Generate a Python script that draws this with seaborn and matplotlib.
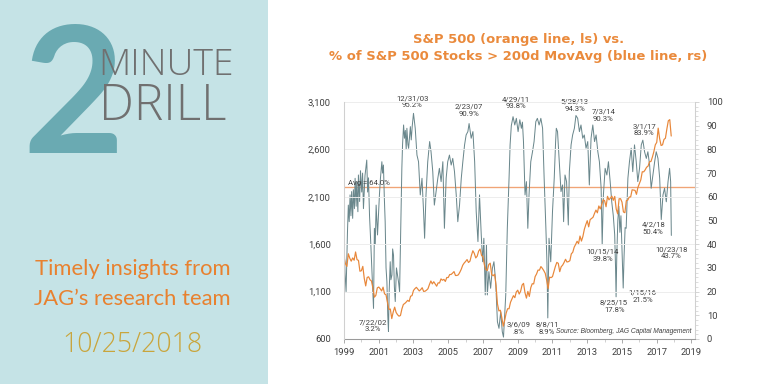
import numpy as np
import matplotlib
matplotlib.use('Agg')
import matplotlib.pyplot as plt
import matplotlib.ticker as mticker
from matplotlib.patches import Rectangle
import seaborn as sns

# ====== S&P 500 level, month-end, left scale (first point = chart start) ======
sp_start = 1999.0
sp_500 = [
    1469,
    1394, 1366, 1499, 1452, 1421, 1455, 1431, 1518, 1437, 1429, 1315, 1320,
    1366, 1240, 1160, 1249, 1256, 1224, 1211, 1134, 1041, 1060, 1139, 1148,
    1130, 1107, 1147, 1076, 1067, 990, 912, 916, 815, 885, 936, 880,
    856, 841, 848, 917, 964, 975, 990, 1008, 996, 1051, 1058, 1112,
    1131, 1145, 1126, 1107, 1121, 1141, 1102, 1104, 1115, 1130, 1174, 1212,
    1181, 1204, 1181, 1157, 1192, 1191, 1234, 1220, 1229, 1207, 1249, 1248,
    1280, 1281, 1295, 1311, 1270, 1270, 1277, 1304, 1336, 1378, 1401, 1418,
    1438, 1407, 1421, 1482, 1531, 1503, 1455, 1474, 1527, 1549, 1481, 1468,
    1379, 1331, 1323, 1386, 1400, 1280, 1267, 1283, 1166, 969, 896, 903,
    826, 735, 798, 873, 919, 919, 987, 1021, 1057, 1036, 1096, 1115,
    1074, 1104, 1169, 1187, 1089, 1031, 1102, 1049, 1141, 1183, 1181, 1258,
    1286, 1327, 1326, 1364, 1345, 1321, 1292, 1219, 1131, 1253, 1247, 1258,
    1312, 1366, 1408, 1398, 1310, 1362, 1379, 1407, 1441, 1412, 1416, 1426,
    1498, 1515, 1569, 1598, 1631, 1606, 1686, 1633, 1682, 1757, 1806, 1848,
    1783, 1859, 1872, 1884, 1924, 1960, 1931, 2003, 1972, 2018, 2068, 2059,
    1995, 2105, 2068, 2086, 2107, 2063, 2104, 1972, 1920, 2079, 2080, 2044,
    1940, 1932, 2060, 2065, 2097, 2099, 2174, 2171, 2168, 2126, 2199, 2239,
    2279, 2364, 2363, 2384, 2412, 2423, 2470, 2472, 2519, 2575, 2648, 2674,
    2824, 2714, 2641, 2648, 2705, 2718, 2816, 2902, 2914, 2741,
]

# ====== % of S&P 500 stocks above 200d moving average, right scale ======
pct_years = [
    1999.00, 1999.06, 1999.12, 1999.20, 1999.25, 1999.30, 1999.35, 1999.40, 1999.44, 1999.50,
    1999.54, 1999.60, 1999.64, 1999.70, 1999.73, 1999.80, 1999.83, 1999.90, 1999.95, 2000.02,
    2000.07, 2000.12, 2000.21, 2000.31, 2000.36, 2000.41, 2000.47, 2000.52, 2000.60, 2000.70,
    2000.75, 2000.80, 2000.85, 2000.93, 2001.04, 2001.10, 2001.18, 2001.22, 2001.27, 2001.32,
    2001.37, 2001.42, 2001.47, 2001.52, 2001.56, 2001.60, 2001.66, 2001.70, 2001.76, 2001.80,
    2001.85, 2001.90, 2001.95, 2002.02, 2002.08, 2002.14, 2002.20, 2002.25, 2002.29, 2002.33,
    2002.37, 2002.43, 2002.48, 2002.53, 2002.58, 2002.62, 2002.68, 2002.72, 2002.78, 2002.82,
    2002.87, 2002.93, 2003.00, 2003.10, 2003.20, 2003.29, 2003.39, 2003.49, 2003.58, 2003.64,
    2003.72, 2003.82, 2003.93, 2004.01, 2004.11, 2004.20, 2004.30, 2004.40, 2004.49, 2004.59,
    2004.69, 2004.78, 2004.88, 2004.97, 2005.07, 2005.17, 2005.26, 2005.36, 2005.46, 2005.55,
    2005.65, 2005.75, 2005.84, 2005.94, 2006.03, 2006.13, 2006.20, 2006.32, 2006.42, 2006.52,
    2006.61, 2006.71, 2006.80, 2006.90, 2006.98, 2007.05, 2007.13, 2007.20, 2007.25, 2007.34,
    2007.44, 2007.54, 2007.63, 2007.73, 2007.83, 2007.92, 2008.02, 2008.11, 2008.18, 2008.31,
    2008.40, 2008.50, 2008.56, 2008.63, 2008.73, 2008.83, 2008.92, 2009.02, 2009.12, 2009.21,
    2009.27, 2009.33, 2009.42, 2009.50, 2009.58, 2009.65, 2009.75, 2009.85, 2009.94, 2010.04,
    2010.13, 2010.23, 2010.33, 2010.43, 2010.52, 2010.62, 2010.68, 2010.73, 2010.80, 2010.90,
    2011.00, 2011.10, 2011.18, 2011.22, 2011.29, 2011.39, 2011.49, 2011.58, 2011.64, 2011.72,
    2011.81, 2011.91, 2011.97, 2012.07, 2012.16, 2012.26, 2012.35, 2012.45, 2012.55, 2012.64,
    2012.74, 2012.83, 2012.93, 2013.03, 2013.12, 2013.22, 2013.32, 2013.42, 2013.51, 2013.61,
    2013.70, 2013.80, 2013.86, 2013.93, 2014.03, 2014.13, 2014.22, 2014.32, 2014.41, 2014.50,
    2014.58, 2014.63, 2014.66, 2014.70, 2014.76, 2014.82, 2014.88, 2014.94, 2015.00, 2015.04,
    2015.07, 2015.12, 2015.18, 2015.24, 2015.34, 2015.43, 2015.53, 2015.62, 2015.72, 2015.82,
    2015.91, 2016.01, 2016.11, 2016.20, 2016.30, 2016.40, 2016.49, 2016.59, 2016.68, 2016.78,
    2016.88, 2016.97, 2017.07, 2017.17, 2017.26, 2017.36, 2017.45, 2017.55, 2017.65, 2017.74,
    2017.80, 2017.84,
]
pct_above = [
    42, 28, 20, 45, 56.5, 49.5, 60.8, 52, 62.2, 50.9,
    63, 55, 67.8, 56, 66.4, 53.7, 69.2, 58, 71, 62,
    70, 55, 69, 75.5, 62, 68, 52, 44, 30, 12.9,
    46.7, 40, 56.5, 43.9, 60.8, 68, 74.8, 70, 73.4, 60,
    49.5, 30, 24.2, 10, 3.2, 20, 32.6, 25, 27, 38,
    35.4, 22, 15.8, 30, 27, 24, 20, 40, 56.5, 72,
    81.9, 90.3, 84.7, 88, 80, 88.9, 82, 80.5, 86, 89.6,
    84, 90, 95.2, 88.9, 77.6, 74.8, 60.8, 67.8, 53.7, 42.5,
    60.8, 74.8, 83.3, 79.0, 70.6, 56.5, 62.2, 67.8, 72.0, 66.4,
    74.8, 46.7, 67.8, 74.8, 77.6, 73.4, 76.2, 70.6, 60.8, 49.5,
    56.5, 67.8, 74.8, 81.9, 86.1, 87.5, 90.9, 84.7, 87.5, 74.8,
    53.7, 41.1, 60.8, 43.9, 32.6, 42.5, 18.6, 39.7, 18.6, 28.4,
    21.4, 29.8, 32.6, 24.2, 7.3, 4.5, 11.5, 3.1, 0.8, 18.6,
    46.7, 67.8, 81.9, 90, 93.8, 90.3, 93.1, 87.5, 92.5, 88.9,
    91.5, 83.3, 60.8, 66.4, 46.7, 60.8, 74.8, 79.0, 83.3, 91.7,
    93.1, 90.3, 93.1, 88.9, 67.8, 46.7, 32.6, 8.9, 42.5, 32.6,
    53.7, 67.8, 83.3, 88.9, 87.5, 74.8, 62.2, 65.0, 49.5, 69.2,
    66.4, 48.1, 70.6, 81.9, 86.1, 88.9, 94.3, 93.1, 87.5, 90.3,
    84.7, 86.1, 80.5, 83.3, 65.0, 84.7, 90.3, 83.3, 86.1, 79.0,
    74.8, 63.6, 39.8, 60.8, 72.0, 69.2, 74.8, 66.4, 57.9, 52,
    44, 30, 17.8, 35, 50, 56, 45, 52, 38, 28,
    21.5, 35, 47, 46.7, 67.8, 74.8, 80.5, 70.6, 81.9, 74.8,
    66.4, 72.0, 81.9, 83.9, 79.0, 76.2, 79.0, 73.4, 63.6, 69.2,
    74.8, 79.0, 76.2, 67.8, 50.4, 60.8, 63.6, 57.9, 66.4, 72.0,
    66.4, 43.7,
]
avg_pct = 64.0

note_labels = ['12/31/03\n95.2%', '2/23/07\n90.9%', '4/29/11\n93.8%', '5/28/13\n94.3%',
               '7/3/14\n90.3%', '3/1/17\n83.9%', '4/2/18\n50.4%', '10/23/18\n43.7%',
               '10/15/14\n39.8%', '1/15/16\n21.5%', '8/25/15\n17.8%', '8/8/11\n8.9%',
               '3/6/09\n.8%', '7/22/02\n3.2%']

# ====== style ======
sns.set_theme(style='white')
plt.rcParams['font.family'] = ['Lato', 'DejaVu Sans']
narrow = ['Roboto', 'DejaVu Sans']
light = ['Open Sans', 'DejaVu Sans']

orange = '#e8873a'
blue_line = '#6a878c'
grey_txt = '#404040'

fig = plt.figure(figsize=(8, 4), dpi=96)
fig.patch.set_facecolor('white')

# ====== left branding panel ======
fig.add_artist(Rectangle((0, 0), 0.349, 1, transform=fig.transFigure,
                         facecolor='#c5e3e6', edgecolor='none', zorder=0))
fig.text(0.096, 0.601, '2', fontsize=132, fontweight='bold', color='#6aaab2',
         ha='center', va='baseline', family=['Lato', 'DejaVu Sans'], zorder=1)
fig.text(0.128, 0.805, 'MINUTE', fontsize=28, fontweight='light', color='#707070',
         ha='left', va='baseline', family=light, zorder=2)
fig.text(0.129, 0.688, 'DRILL', fontsize=37, fontweight='light', color='#707070',
         ha='left', va='baseline', family=light, zorder=2)
fig.text(0.1725, 0.284, 'Timely insights from', fontsize=16.5, color='#e8812f',
         ha='center', va='baseline', family=['Lato', 'DejaVu Sans'])
fig.text(0.1725, 0.206, 'JAG\u2019s research team', fontsize=16.5, color='#e8812f',
         ha='center', va='baseline', family=['Lato', 'DejaVu Sans'])
fig.text(0.1725, 0.0833, '10/25/2018', fontsize=20, fontweight='light', color='#c9a53c',
         ha='center', va='baseline', family=light)

# ====== title ======
fig.text(0.675, 0.896, 'S&P 500 (orange line, ls) vs.', fontsize=9.8, fontweight='bold',
         color='#ea8a3c', ha='center', va='center', family=['DejaVu Sans'])
fig.text(0.675, 0.852, '% of S&P 500 Stocks > 200d MovAvg (blue line, rs)', fontsize=9.8,
         fontweight='bold', color='#ea8a3c', ha='center', va='center', family=['DejaVu Sans'])

# ====== chart ======
ax_pct = fig.add_axes([0.4479, 0.1172, 0.457, 0.6172])
ax_sp = ax_pct.twinx()

sns.lineplot(x=pct_years, y=pct_above, ax=ax_pct, color=blue_line, linewidth=0.75)
sp_x = sp_start + np.arange(len(sp_500)) / 12
sns.lineplot(x=sp_x, y=sp_500, ax=ax_sp, color=orange, linewidth=0.9)

ax_pct.axhline(avg_pct, color='#f0a476', linewidth=1.0, zorder=1)
ax_pct.text(1999.22, avg_pct + 0.6, f'Avg = {avg_pct:.1f}%', fontsize=5.8, color=grey_txt,
            ha='left', va='bottom', family=narrow)

ax_pct.set_xlim(1999, 2019.2)
ax_pct.set_ylim(0, 100)
ax_sp.set_ylim(600, 3100)

ax_pct.yaxis.tick_right()
ax_sp.yaxis.tick_left()
ax_pct.set_xticks(range(1999, 2020, 2))
ax_pct.xaxis.set_minor_locator(mticker.MultipleLocator(1))
ax_pct.set_yticks(range(0, 101, 10))
ax_pct.yaxis.set_minor_locator(mticker.MultipleLocator(2))
ax_sp.set_yticks(range(600, 3101, 500))
ax_sp.yaxis.set_major_formatter(mticker.StrMethodFormatter('{x:,.0f}'))

ax_pct.tick_params(axis='x', which='major', length=3, width=0.6, color='#999999', pad=4,
                   labelsize=7, labelcolor=grey_txt, bottom=True)
ax_pct.tick_params(axis='x', which='minor', length=2, width=0.5, color='#bbbbbb', bottom=True)
ax_pct.tick_params(axis='y', which='major', length=3, width=0.6, color='#cccccc', pad=6,
                   labelsize=7, labelcolor=grey_txt, right=True, left=False)
ax_pct.tick_params(axis='y', which='minor', length=2, width=0.5, color='#cccccc',
                   right=True, left=False)
ax_sp.tick_params(axis='y', length=0, pad=10, labelsize=7, labelcolor=grey_txt)
for lab in ax_pct.get_xticklabels() + ax_pct.get_yticklabels() + ax_sp.get_yticklabels():
    lab.set_family(narrow)

ax_sp.yaxis.grid(True, color='#ececec', linewidth=0.7)
ax_sp.set_axisbelow(True)

for s in ['top', 'left']:
    ax_pct.spines[s].set_visible(False)
for s in ['top', 'right', 'bottom']:
    ax_sp.spines[s].set_visible(False)
ax_pct.spines['right'].set_color('#d0d0d0')
ax_pct.spines['bottom'].set_color('#9a9a9a')
ax_sp.spines['left'].set_color('#d0d0d0')
for sp in [ax_pct.spines['right'], ax_pct.spines['bottom'], ax_sp.spines['left']]:
    sp.set_linewidth(0.8)
ax_pct.set_xlabel('')
ax_pct.set_ylabel('')
ax_sp.set_ylabel('')

# ====== point labels ======
note_pos = [(2002.93, 100.0), (2006.17, 96.6), (2008.88, 99.6), (2012.28, 98.7),
            (2013.92, 94.5), (2016.28, 88.2), (2016.80, 46.8), (2017.84, 36.3),
            (2013.91, 35.4), (2016.18, 18.1), (2014.55, 13.9), (2010.68, 4.6),
            (2009.06, 4.6), (2000.68, 5.5)]
for text, (nx, ny) in zip(note_labels, note_pos):
    ax_pct.text(nx, ny, text, fontsize=5.8, color=grey_txt, ha='center', va='center',
                family=narrow, linespacing=1.2, clip_on=False, zorder=5)

ax_pct.text(2019.0, 3.0, 'Source: Bloomberg, JAG Capital Management', fontsize=5,
            style='italic', color=grey_txt, ha='right', va='center',
            family=['Liberation Sans', 'DejaVu Sans'])

fig.savefig('out.png', dpi=96)
